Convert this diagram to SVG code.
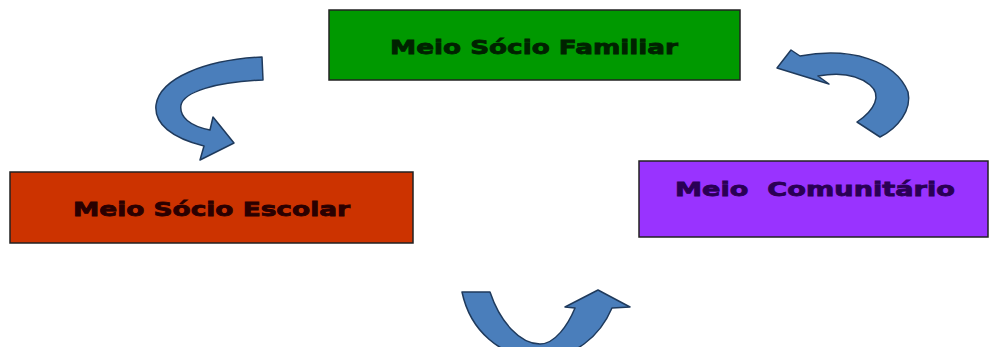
<svg xmlns="http://www.w3.org/2000/svg" width="990" height="347" viewBox="0 0 990 347">
<style>
.box{stroke:#222;stroke-width:1.5}
.lbl{font-family:"DejaVu Sans",Verdana,sans-serif;font-weight:bold;font-size:20px;text-anchor:start;stroke-width:0.8}
.arr{fill:#4a7ebb;stroke:#1f3a5c;stroke-width:1.5;stroke-linejoin:round}
</style>
<rect width="990" height="347" fill="#ffffff"/>
<g id="familiar">
<rect class="box" x="329" y="10" width="411" height="70" fill="#009900"/>
<text class="lbl" x="390" y="54" fill="#002200" stroke="#002200" textLength="288" lengthAdjust="spacingAndGlyphs">Meio Sócio Familiar</text>
</g>
<g id="escolar">
<rect class="box" x="10" y="172" width="403" height="71" fill="#cc3300"/>
<text class="lbl" x="73" y="216" fill="#2a0000" stroke="#2a0000" textLength="277" lengthAdjust="spacingAndGlyphs">Meio Sócio Escolar</text>
</g>
<g id="comunitario">
<rect class="box" x="639" y="161" width="349" height="76" fill="#9933ff"/>
<text class="lbl" x="675" y="196" fill="#2a0055" stroke="#2a0055" textLength="280" lengthAdjust="spacingAndGlyphs">Meio&#160; Comunitário</text>
</g>
<g id="connectors">
<path class="arr" d="M262,57 C205,60 160,78 156,105 C154,124 172,138 204,146 L200,160 L234,143 L213,117 L210,130 C190,126 179,117 181,105 C184,92 215,82 263,80 Z"/>
<path class="arr" d="M777,68 L791,50 L800,56 C850,47 895,60 908,92 C912,110 898,128 880,137 L857,122 C875,110 882,95 870,85 C858,75 840,72 818,76 L829,84 Z"/>
<path class="arr" d="M462,292 L490,292 C500,322 520,344 540,344 C555,344 568,325 575,308 L565,307 L598,290 L630,307 L612,308 C600,336 575,358 540,358 C500,358 470,330 462,292 Z"/>
</g>
</svg>
